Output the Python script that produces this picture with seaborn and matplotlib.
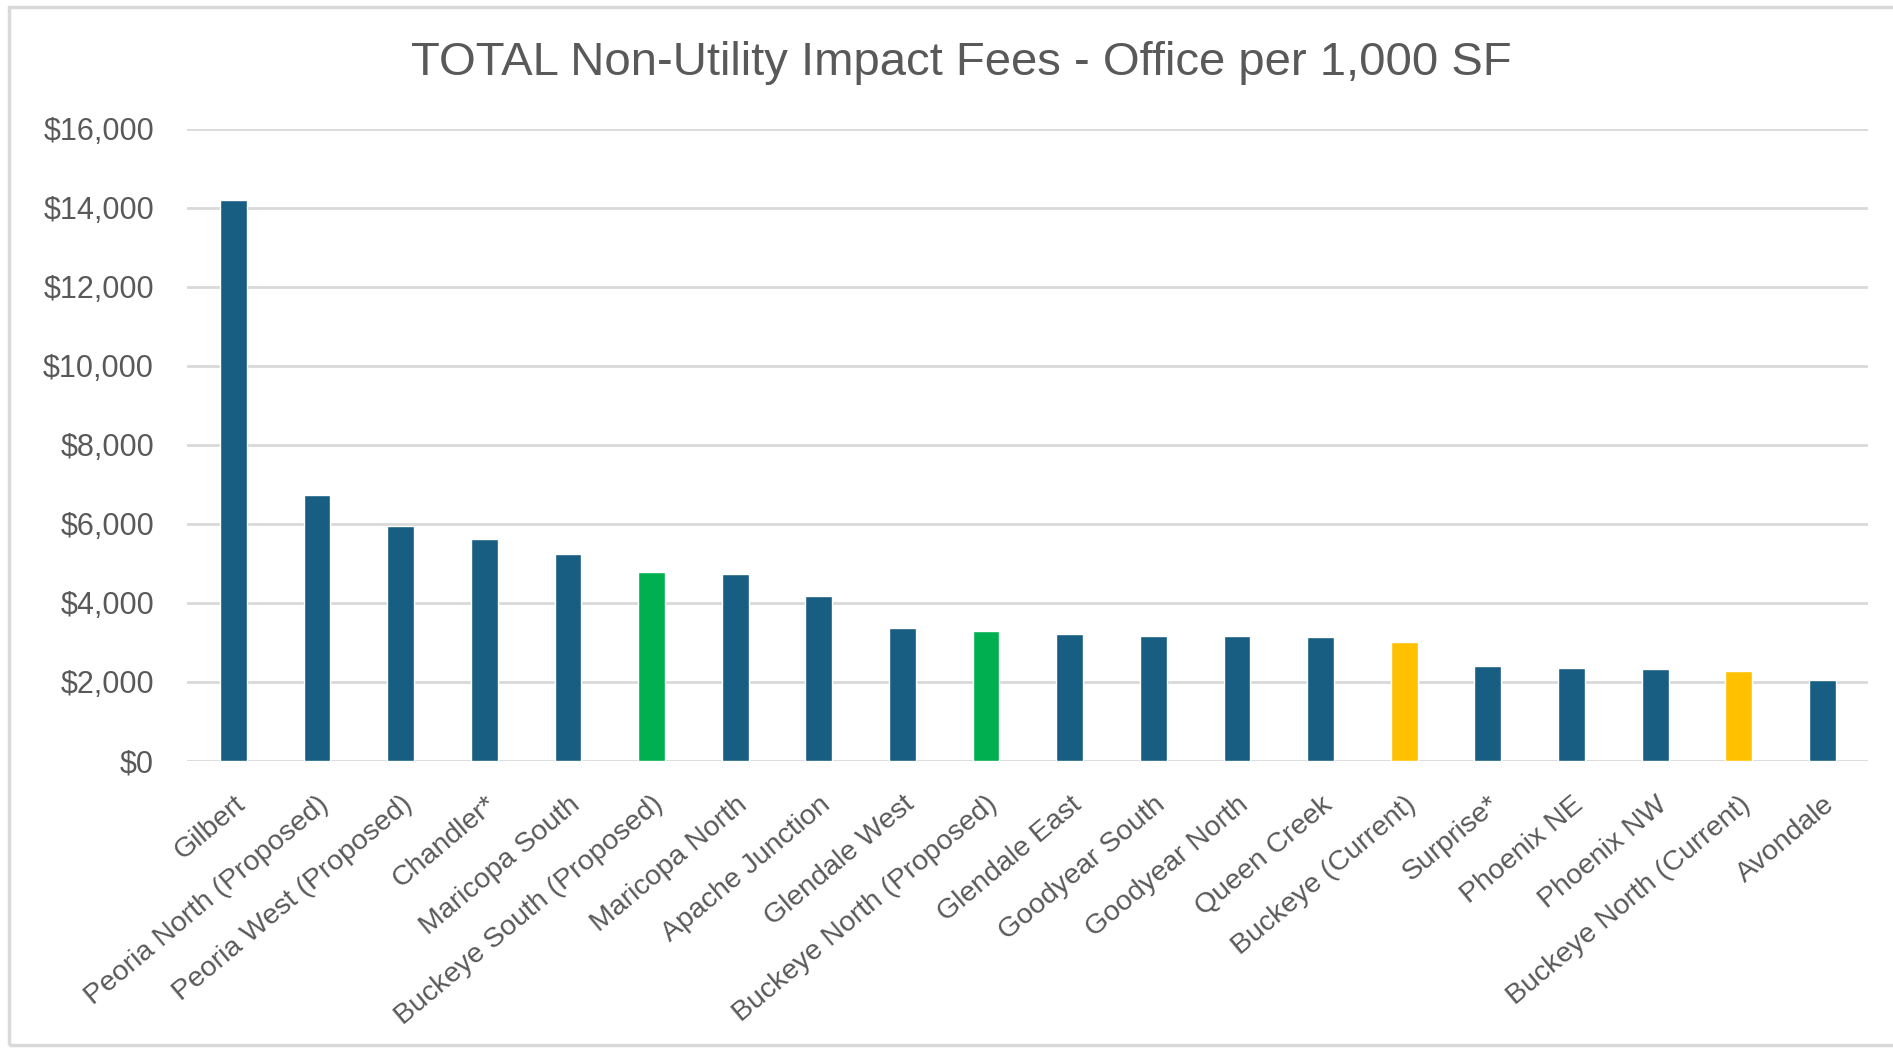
import matplotlib
matplotlib.use("Agg")
import matplotlib.pyplot as plt
import seaborn as sns
import pandas as pd
from matplotlib.patches import Rectangle
from matplotlib.ticker import FuncFormatter

cities = ["Gilbert", "Peoria North (Proposed)", "Peoria West (Proposed)", "Chandler*",
          "Maricopa South", "Buckeye South (Proposed)", "Maricopa North", "Apache Junction",
          "Glendale West", "Buckeye North (Proposed)", "Glendale East", "Goodyear South",
          "Goodyear North", "Queen Creek", "Buckeye (Current)", "Surprise*", "Phoenix NE",
          "Phoenix NW", "Buckeye North (Current)", "Avondale"]
fees = [14200, 6720, 5945, 5625, 5230, 4770, 4730, 4165, 3370, 3280, 3200, 3170,
        3170, 3125, 3000, 2400, 2360, 2320, 2285, 2040]
groups = ["other", "other", "other", "other", "other", "proposed", "other", "other",
          "other", "proposed", "other", "other", "other", "other", "current", "other",
          "other", "other", "current", "other"]
group_colors = {"other": "#175E82", "proposed": "#00B050", "current": "#FFC000"}

df = pd.DataFrame({"city": cities, "fee": fees, "group": groups})

sns.set_style("white")
plt.rcParams["font.family"] = ["Liberation Sans", "DejaVu Sans"]

fig = plt.figure(figsize=(18.93, 10.48), dpi=100)
ax = fig.add_axes([0.099, 0.274, 0.888, 0.603])

sns.barplot(data=df, x="city", y="fee", hue="group", palette=group_colors,
            dodge=False, width=0.32, saturation=1, legend=False, ax=ax, zorder=3)

ax.set_ylim(0, 16000)
ax.set_yticks(range(0, 16001, 2000))
ax.yaxis.set_major_formatter(FuncFormatter(lambda v, p: "${:,.0f}".format(v)))
ax.grid(axis="y", color="#D9D9D9", linewidth=2, zorder=0)
ax.set_xlim(-0.55, len(cities) - 0.45)
for s in ax.spines.values():
    s.set_visible(False)
ax.set_xlabel("")
ax.set_ylabel("")
ax.tick_params(axis="y", length=0, pad=24, labelsize=22, labelcolor="#595959")
ax.tick_params(axis="x", length=0, pad=22, labelsize=20.5, labelcolor="#595959")
plt.setp(ax.get_xticklabels(), rotation=40, ha="right", rotation_mode="anchor")

fig.text(0.508, 0.940, "TOTAL Non-Utility Impact Fees - Office per 1,000 SF",
         ha="center", va="center", fontsize=34, color="#595959")

fig.patches.append(Rectangle((0.005, 0.003), 1.2, 0.99, transform=fig.transFigure,
                             fill=False, edgecolor="#D9D9D9", linewidth=2.5))

fig.savefig("out.png", dpi=100)
